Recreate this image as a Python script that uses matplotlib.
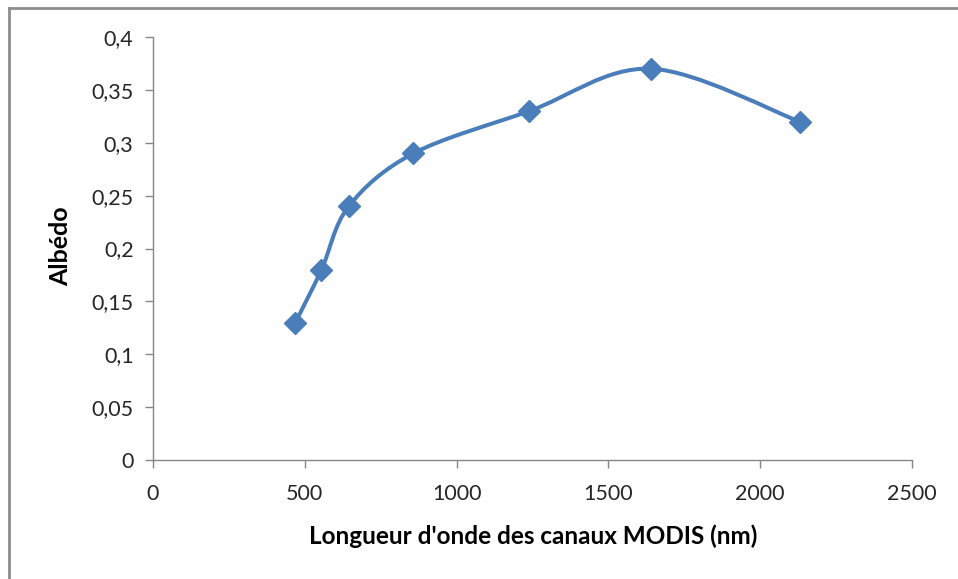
import matplotlib.pyplot as plt
from matplotlib.path import Path
from matplotlib.patches import PathPatch
import matplotlib.lines as mlines

# MODIS band centres (nm) and albedo
wavelength = [469, 555, 645, 858, 1240, 1640, 2130]
albedo = [0.13, 0.18, 0.24, 0.29, 0.33, 0.37, 0.32]

x_ticks = [0, 500, 1000, 1500, 2000, 2500]
y_ticks = [0, 0.05, 0.1, 0.15, 0.2, 0.25, 0.3, 0.35, 0.4]
y_labels = ["0", "0,05", "0,1", "0,15", "0,2", "0,25", "0,3", "0,35", "0,4"]

blue = "#4A7EBB"
axis_grey = "#868686"

plt.rcParams["font.family"] = ["Lato", "DejaVu Sans"]

fig = plt.figure(figsize=(9.58, 5.79), dpi=100)
ax = fig.add_axes([153 / 958, 1 - 460 / 579, (912 - 153) / 958, (460 - 37) / 579])

# smoothed line like Excel: cubic Bezier segments (Catmull-Rom control points)
pts = list(zip(wavelength, albedo))
verts = [pts[0]]
codes = [Path.MOVETO]
n = len(pts)
for i in range(n - 1):
    p0 = pts[max(i - 1, 0)]
    p1 = pts[i]
    p2 = pts[i + 1]
    p3 = pts[min(i + 2, n - 1)]
    c1 = (p1[0] + (p2[0] - p0[0]) / 6, p1[1] + (p2[1] - p0[1]) / 6)
    c2 = (p2[0] - (p3[0] - p1[0]) / 6, p2[1] - (p3[1] - p1[1]) / 6)
    verts += [c1, c2, p2]
    codes += [Path.CURVE4] * 3
ax.add_patch(PathPatch(Path(verts, codes), facecolor="none", edgecolor=blue,
                       lw=2.9, capstyle="round", joinstyle="round", zorder=2))
ax.plot(wavelength, albedo, linestyle="none", marker="D", markersize=11,
        color=blue, zorder=3)

ax.set_xlim(0, 2500)
ax.set_ylim(0, 0.4)
ax.set_xticks(x_ticks)
ax.set_xticklabels([str(t) for t in x_ticks])
ax.set_yticks(y_ticks)
ax.set_yticklabels(y_labels)
ax.tick_params(direction="out", length=6, width=1, color=axis_grey,
               labelsize=15.5, labelcolor="#262626")
ax.tick_params(axis="x", pad=11)
ax.tick_params(axis="y", pad=8)
for side in ["top", "right"]:
    ax.spines[side].set_visible(False)
for side in ["left", "bottom"]:
    ax.spines[side].set_color(axis_grey)
    ax.spines[side].set_linewidth(1)

fig.text(533 / 958, 1 - 536 / 579, "Longueur d'onde des canaux MODIS (nm)",
         ha="center", va="center", fontsize=17.5, fontweight="bold")
fig.text(61 / 958, 1 - 246 / 579, "Albédo", ha="center", va="center",
         rotation=90, fontsize=18, fontweight="bold")

# outer chart frame (only left and top edges fall inside the image)
fig.add_artist(mlines.Line2D([8.5 / 958, 8.5 / 958], [0, 1 - 7.5 / 579],
                             transform=fig.transFigure, color="#8c8c8c", lw=2))
fig.add_artist(mlines.Line2D([8.5 / 958, 1], [1 - 7.5 / 579, 1 - 7.5 / 579],
                             transform=fig.transFigure, color="#8c8c8c", lw=2))

fig.savefig("out.png", dpi=100)
